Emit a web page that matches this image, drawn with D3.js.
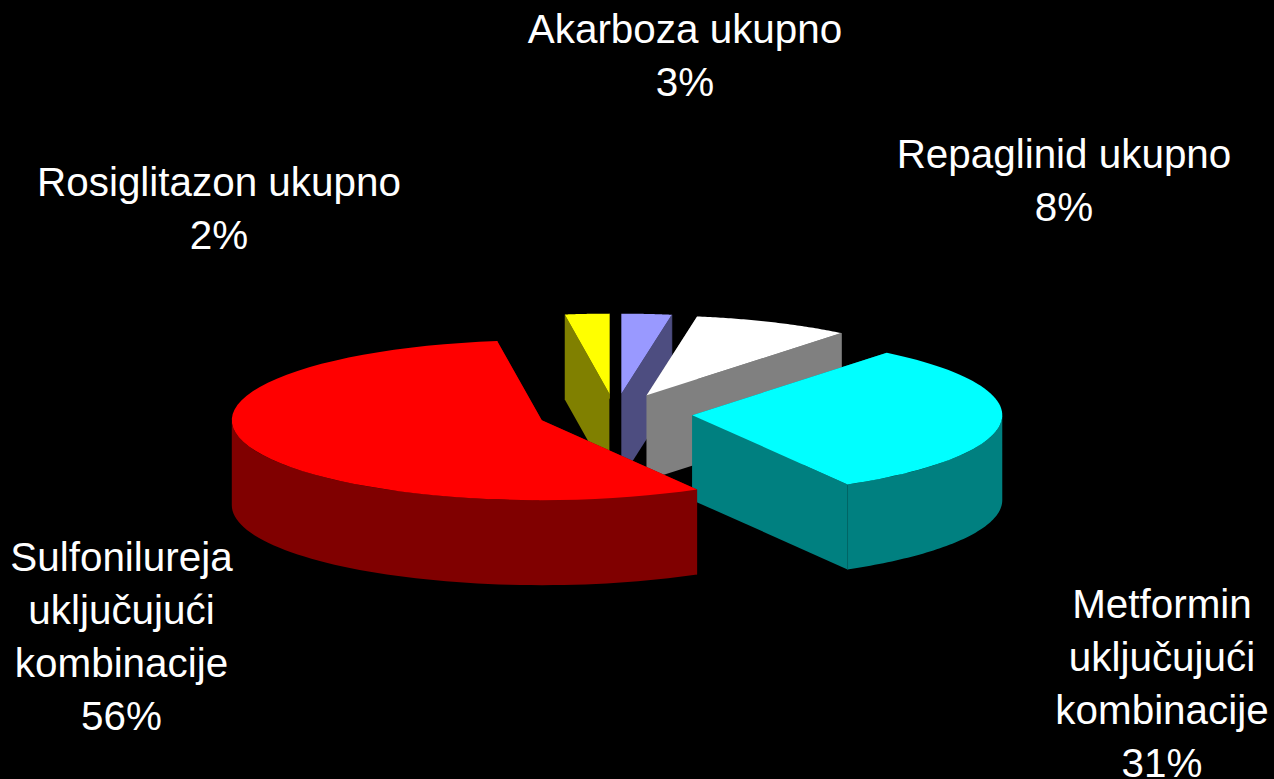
<!DOCTYPE html>
<html><head><meta charset="utf-8">
<script src="https://cdn.jsdelivr.net/npm/d3@7/dist/d3.min.js"></script>
<style>html,body{margin:0;padding:0;background:#000;overflow:hidden}svg{display:block}</style>
</head><body><div id="chart"></div>
<script>
const categories=["Rosiglitazon ukupno","Akarboza ukupno","Repaglinid ukupno","Metformin uključujući kombinacije","Sulfonilureja uključujući kombinacije"];
const values=[2.3,2.6,8.2,30.85,56.05];
const topColors=["#ffff00","#9999ff","#ffffff","#00ffff","#ff0000"];
const sideColors=["#808000","#4d4d80","#808080","#008080","#800000"];
const seamColors=["#808000","#4d4d80","#808080","#006666","#800000"];
const labelLines=[["Rosiglitazon ukupno"],["Akarboza ukupno"],["Repaglinid ukupno"],["Metformin","uključujući","kombinacije"],["Sulfonilureja","uključujući","kombinacije"]];
const labelCentres=[[219,196],[685,43],[1064,168],[1162,618],[121.5,571]];

const W=1274,H=779,LH=53,DEPTH=85,EXPLODE=0.25;
const svg=d3.select("#chart").append("svg").attr("width",W).attr("height",H);
svg.append("rect").attr("width",W).attr("height",H).attr("fill","#000");

// unit circle -> screen
const sx=d3.scaleLinear().domain([-1,1]).range([615-310,615+310]);
const sy=d3.scaleLinear().domain([-1,1]).range([413.6+80,413.6-80]);
const start=-values[0]/d3.sum(values)*2*Math.PI;
const arcs=d3.pie().sort(null).value(d=>d).startAngle(start).endAngle(start+2*Math.PI)(values);
const line=d3.line();
const samples=(a0,a1,n)=>d3.range(0,n+1).map(k=>a0+(a1-a0)*k/n);

arcs.forEach((a,i)=>{
  const mid=(a.startAngle+a.endAngle)/2;
  const ox=EXPLODE*Math.sin(mid),oy=EXPLODE*Math.cos(mid);
  const P=(r,t,d=0)=>[sx(ox+r*Math.sin(t)),sy(oy+r*Math.cos(t))+d];
  const g=svg.append("g");
  const side=sideColors[i];
  // cut faces
  [a.startAngle,a.endAngle].forEach(t=>{
    g.append("path").attr("fill",side)
     .attr("d",line([P(0,t),P(1,t),P(1,t,DEPTH),P(0,t,DEPTH)])+"Z");
  });
  // outer wall: only the part that faces the viewer
  const f0=Math.max(a.startAngle,Math.PI/2),f1=Math.min(a.endAngle,3*Math.PI/2);
  if(f1>f0){
    const fs=samples(f0,f1,60);
    g.append("path").attr("fill",side)
     .attr("d",line(fs.map(t=>P(1,t)).concat(fs.slice().reverse().map(t=>P(1,t,DEPTH))))+"Z");
  }
  // seam at the end of the slice
  g.append("path").attr("stroke",seamColors[i]).attr("stroke-width",1).attr("fill","none")
   .attr("d",line([P(1,a.endAngle),P(1,a.endAngle,DEPTH)]));
  // top
  g.append("path").attr("fill",topColors[i])
   .attr("d",line([P(0,0)].concat(samples(a.startAngle,a.endAngle,60).map(t=>P(1,t))))+"Z");
});

labelLines.forEach((lines,i)=>{
  const all=lines.concat(Math.round(values[i])+"%");
  const t=svg.append("text").attr("fill","#fff").attr("text-anchor","middle")
    .attr("font-family","'Liberation Sans',Arial,sans-serif").attr("font-size",40.4);
  all.forEach((s,j)=>t.append("tspan").attr("x",labelCentres[i][0]).attr("y",labelCentres[i][1]+j*LH).text(s));
});
</script></body></html>
